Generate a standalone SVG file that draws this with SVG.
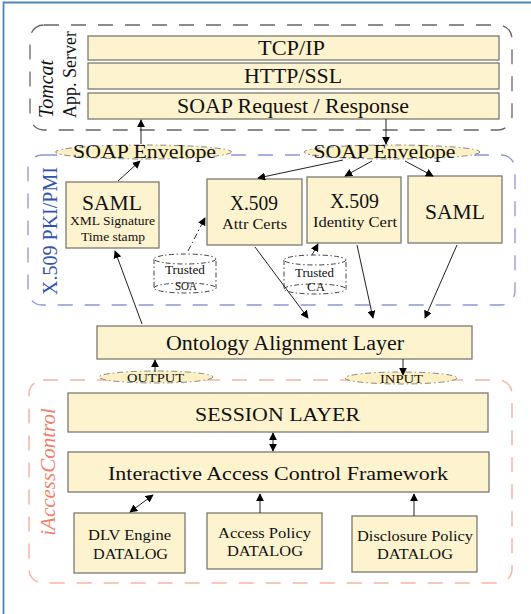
<svg xmlns="http://www.w3.org/2000/svg" width="531" height="614" viewBox="0 0 531 614">
<defs>
<marker id="ah" viewBox="0 0 10 10" refX="9" refY="5" markerWidth="8" markerHeight="8" orient="auto-start-reverse" markerUnits="userSpaceOnUse">
<path d="M0,0 L10,5 L0,10 Z" fill="#000"/>
</marker>
<style>
.bx{fill:#fdf3cf;stroke:#7a7a72;stroke-width:1.3}
.t{font-family:"Liberation Serif","Times New Roman",serif;fill:#111;text-anchor:middle}
.cn{fill:none;stroke-width:1.3;stroke-dasharray:15 12}
.ln{fill:none;stroke:#222;stroke-width:1}
.dd{fill:none;stroke:#333;stroke-width:1;stroke-dasharray:6 3 1.5 3}
.env{fill:#fcf0c4;stroke:#888;stroke-width:1;stroke-dasharray:6 3 1.5 3}
.cyl{fill:#fff;stroke:#444;stroke-width:1;stroke-dasharray:5 2.5 1.5 2.5}
</style>
</defs>
<rect x="0" y="0" width="531" height="614" fill="#fff"/>
<path d="M3.5,614 V2.5 H531" fill="none" stroke="#4f86b8" stroke-width="1.8"/>

<g id="tomcat">
<rect x="30" y="25" width="482" height="105" rx="14" class="cn" stroke="#666"/>
<text class="t" transform="translate(53,118) rotate(-90)" style="text-anchor:start;font-style:italic;font-size:20px">Tomcat</text>
<text class="t" transform="translate(76,118) rotate(-90)" style="text-anchor:start;font-size:18px">App. Server</text>
</g>
<g id="tcpip"><rect class="bx" x="88" y="36" width="411" height="24"/><text class="t" x="291.5" y="55" font-size="20" textLength="67" lengthAdjust="spacingAndGlyphs">TCP/IP</text></g>
<g id="http"><rect class="bx" x="88" y="63" width="411" height="26"/><text class="t" x="293" y="83" font-size="20" textLength="98" lengthAdjust="spacingAndGlyphs">HTTP/SSL</text></g>
<g id="soapreq"><rect class="bx" x="88" y="93" width="411" height="26"/><text class="t" x="293" y="113" font-size="20" textLength="232" lengthAdjust="spacingAndGlyphs">SOAP Request / Response</text></g>

<g id="pki">
<rect x="28" y="155" width="487" height="150" rx="14" class="cn" stroke="#8a98d8"/>
<text class="t" transform="translate(57,231) rotate(-90)" style="font-size:20px;fill:#3353b0">X.509 PKI/PMI</text>
</g>

<g id="env1"><ellipse class="env" cx="143.5" cy="152" rx="88" ry="7"/><text class="t" x="144.5" y="158" font-size="19" textLength="143" lengthAdjust="spacingAndGlyphs">SOAP Envelope</text></g>
<g id="env2"><ellipse class="env" cx="392" cy="152" rx="88" ry="7"/><text class="t" x="384.5" y="158" font-size="19" textLength="142" lengthAdjust="spacingAndGlyphs">SOAP Envelope</text></g>

<g id="saml1"><rect class="bx" x="66" y="182" width="93" height="66"/>
<text class="t" x="112" y="210" font-size="21" textLength="60" lengthAdjust="spacingAndGlyphs">SAML</text>
<text class="t" x="112.5" y="225" font-size="13.5" textLength="85" lengthAdjust="spacingAndGlyphs">XML Signature</text>
<text class="t" x="113" y="241" font-size="13.5" textLength="64" lengthAdjust="spacingAndGlyphs">Time stamp</text></g>
<g id="attr"><rect class="bx" x="207" y="179" width="95" height="66"/>
<text class="t" x="254" y="210" font-size="20" textLength="48" lengthAdjust="spacingAndGlyphs">X.509</text>
<text class="t" x="254.5" y="229" font-size="15.5" textLength="65" lengthAdjust="spacingAndGlyphs">Attr Certs</text></g>
<g id="ident"><rect class="bx" x="307" y="177" width="94" height="66"/>
<text class="t" x="354.5" y="208" font-size="20" textLength="49" lengthAdjust="spacingAndGlyphs">X.509</text>
<text class="t" x="355" y="227" font-size="15.5" textLength="84" lengthAdjust="spacingAndGlyphs">Identity Cert</text></g>
<g id="saml2"><rect class="bx" x="408" y="176" width="94" height="67"/>
<text class="t" x="455" y="219" font-size="21" textLength="60" lengthAdjust="spacingAndGlyphs">SAML</text></g>

<g id="trustsoa">
<path class="cyl" d="M154,259 V288 A31,5 0 0 0 216,288 V259"/>
<ellipse class="cyl" cx="185" cy="259" rx="31" ry="5"/>
<path class="cyl" d="M154,288 A31,5 0 0 1 216,288"/>
<text class="t" x="185" y="274" font-size="12.5" textLength="40" lengthAdjust="spacingAndGlyphs">Trusted</text>
<text class="t" x="186" y="290" font-size="12.5" textLength="22" lengthAdjust="spacingAndGlyphs">SOA</text>
</g>
<g id="trustca">
<path class="cyl" d="M284,260 V289 A31,5 0 0 0 346,289 V260"/>
<ellipse class="cyl" cx="315" cy="260" rx="31" ry="5"/>
<path class="cyl" d="M284,289 A31,5 0 0 1 346,289"/>
<text class="t" x="314.5" y="277" font-size="12.5" textLength="39" lengthAdjust="spacingAndGlyphs">Trusted</text>
<text class="t" x="316" y="291" font-size="12.5" textLength="18" lengthAdjust="spacingAndGlyphs">CA</text>
</g>

<g id="onto"><rect class="bx" x="97" y="326" width="375" height="33"/>
<text class="t" x="285" y="350" font-size="20" textLength="238" lengthAdjust="spacingAndGlyphs">Ontology Alignment Layer</text></g>

<g id="iac">
<rect x="29" y="380" width="483" height="203" rx="14" class="cn" stroke="#f8b4a4" style="stroke-width:1.5"/>
<text class="t" transform="translate(55,472) rotate(-90)" style="font-size:21px;font-style:italic;fill:#f08068">iAccessControl</text>
</g>

<g id="out"><ellipse class="env" cx="156" cy="377" rx="57" ry="6"/><text class="t" x="155.5" y="382" font-size="13.5" textLength="57" lengthAdjust="spacingAndGlyphs">OUTPUT</text></g>
<g id="inp"><ellipse class="env" cx="401" cy="378" rx="56" ry="6"/><text class="t" x="401.5" y="383" font-size="13.5" textLength="43" lengthAdjust="spacingAndGlyphs">INPUT</text></g>

<g id="session"><rect class="bx" x="68" y="393" width="420" height="39"/>
<text class="t" x="277.5" y="421" font-size="18.5" textLength="165" lengthAdjust="spacingAndGlyphs">SESSION LAYER</text></g>
<g id="iacf"><rect class="bx" x="68" y="452" width="421" height="40"/>
<text class="t" x="278" y="480" font-size="19" textLength="340" lengthAdjust="spacingAndGlyphs">Interactive Access Control Framework</text></g>
<g id="dlv"><rect class="bx" x="74" y="513" width="111" height="60"/>
<text class="t" x="129.5" y="540" font-size="15.5" textLength="83" lengthAdjust="spacingAndGlyphs">DLV Engine</text>
<text class="t" x="130.5" y="559" font-size="15.5" textLength="75" lengthAdjust="spacingAndGlyphs">DATALOG</text></g>
<g id="accpol"><rect class="bx" x="207" y="513" width="115" height="56"/>
<text class="t" x="264.5" y="538" font-size="15.5" textLength="93" lengthAdjust="spacingAndGlyphs">Access Policy</text>
<text class="t" x="265" y="556" font-size="15.5" textLength="76" lengthAdjust="spacingAndGlyphs">DATALOG</text></g>
<g id="discpol"><rect class="bx" x="352" y="516" width="125" height="56"/>
<text class="t" x="415" y="541" font-size="15.5" textLength="116" lengthAdjust="spacingAndGlyphs">Disclosure Policy</text>
<text class="t" x="415" y="559" font-size="15.5" textLength="76" lengthAdjust="spacingAndGlyphs">DATALOG</text></g>

<g id="connectors">
<line class="ln" x1="141" y1="144" x2="141" y2="120" marker-end="url(#ah)"/>
<line class="ln" x1="386" y1="119" x2="386" y2="144" marker-end="url(#ah)"/>
<line class="ln" x1="118" y1="181" x2="140" y2="161" marker-end="url(#ah)"/>
<line class="ln" x1="343" y1="160" x2="258" y2="178" marker-end="url(#ah)"/>
<line class="ln" x1="372" y1="161" x2="345" y2="176" marker-end="url(#ah)"/>
<line class="ln" x1="405" y1="161" x2="433" y2="176" marker-end="url(#ah)"/>
<line class="dd" x1="188" y1="251" x2="205" y2="218" marker-end="url(#ah)"/>
<line class="dd" x1="312" y1="255" x2="318" y2="244" marker-end="url(#ah)"/>
<line class="ln" x1="142" y1="324" x2="115" y2="251" marker-end="url(#ah)"/>
<line class="ln" x1="255" y1="247" x2="308" y2="318" marker-end="url(#ah)"/>
<line class="ln" x1="357" y1="245" x2="373" y2="318" marker-end="url(#ah)"/>
<line class="ln" x1="457" y1="245" x2="425" y2="318" marker-end="url(#ah)"/>
<line class="ln" x1="155" y1="372" x2="155" y2="360" marker-end="url(#ah)"/>
<line class="ln" x1="403" y1="359" x2="403" y2="375" marker-end="url(#ah)"/>
<line class="ln" x1="273" y1="442" x2="273" y2="433" marker-end="url(#ah)"/>
<line class="ln" x1="273" y1="442" x2="273" y2="451" marker-end="url(#ah)"/>
<line class="ln" x1="130" y1="512" x2="153" y2="495" marker-start="url(#ah)" marker-end="url(#ah)"/>
<line class="ln" x1="260" y1="513" x2="260" y2="494" marker-end="url(#ah)"/>
<line class="ln" x1="414" y1="516" x2="414" y2="494" marker-end="url(#ah)"/>
</g>
</svg>
